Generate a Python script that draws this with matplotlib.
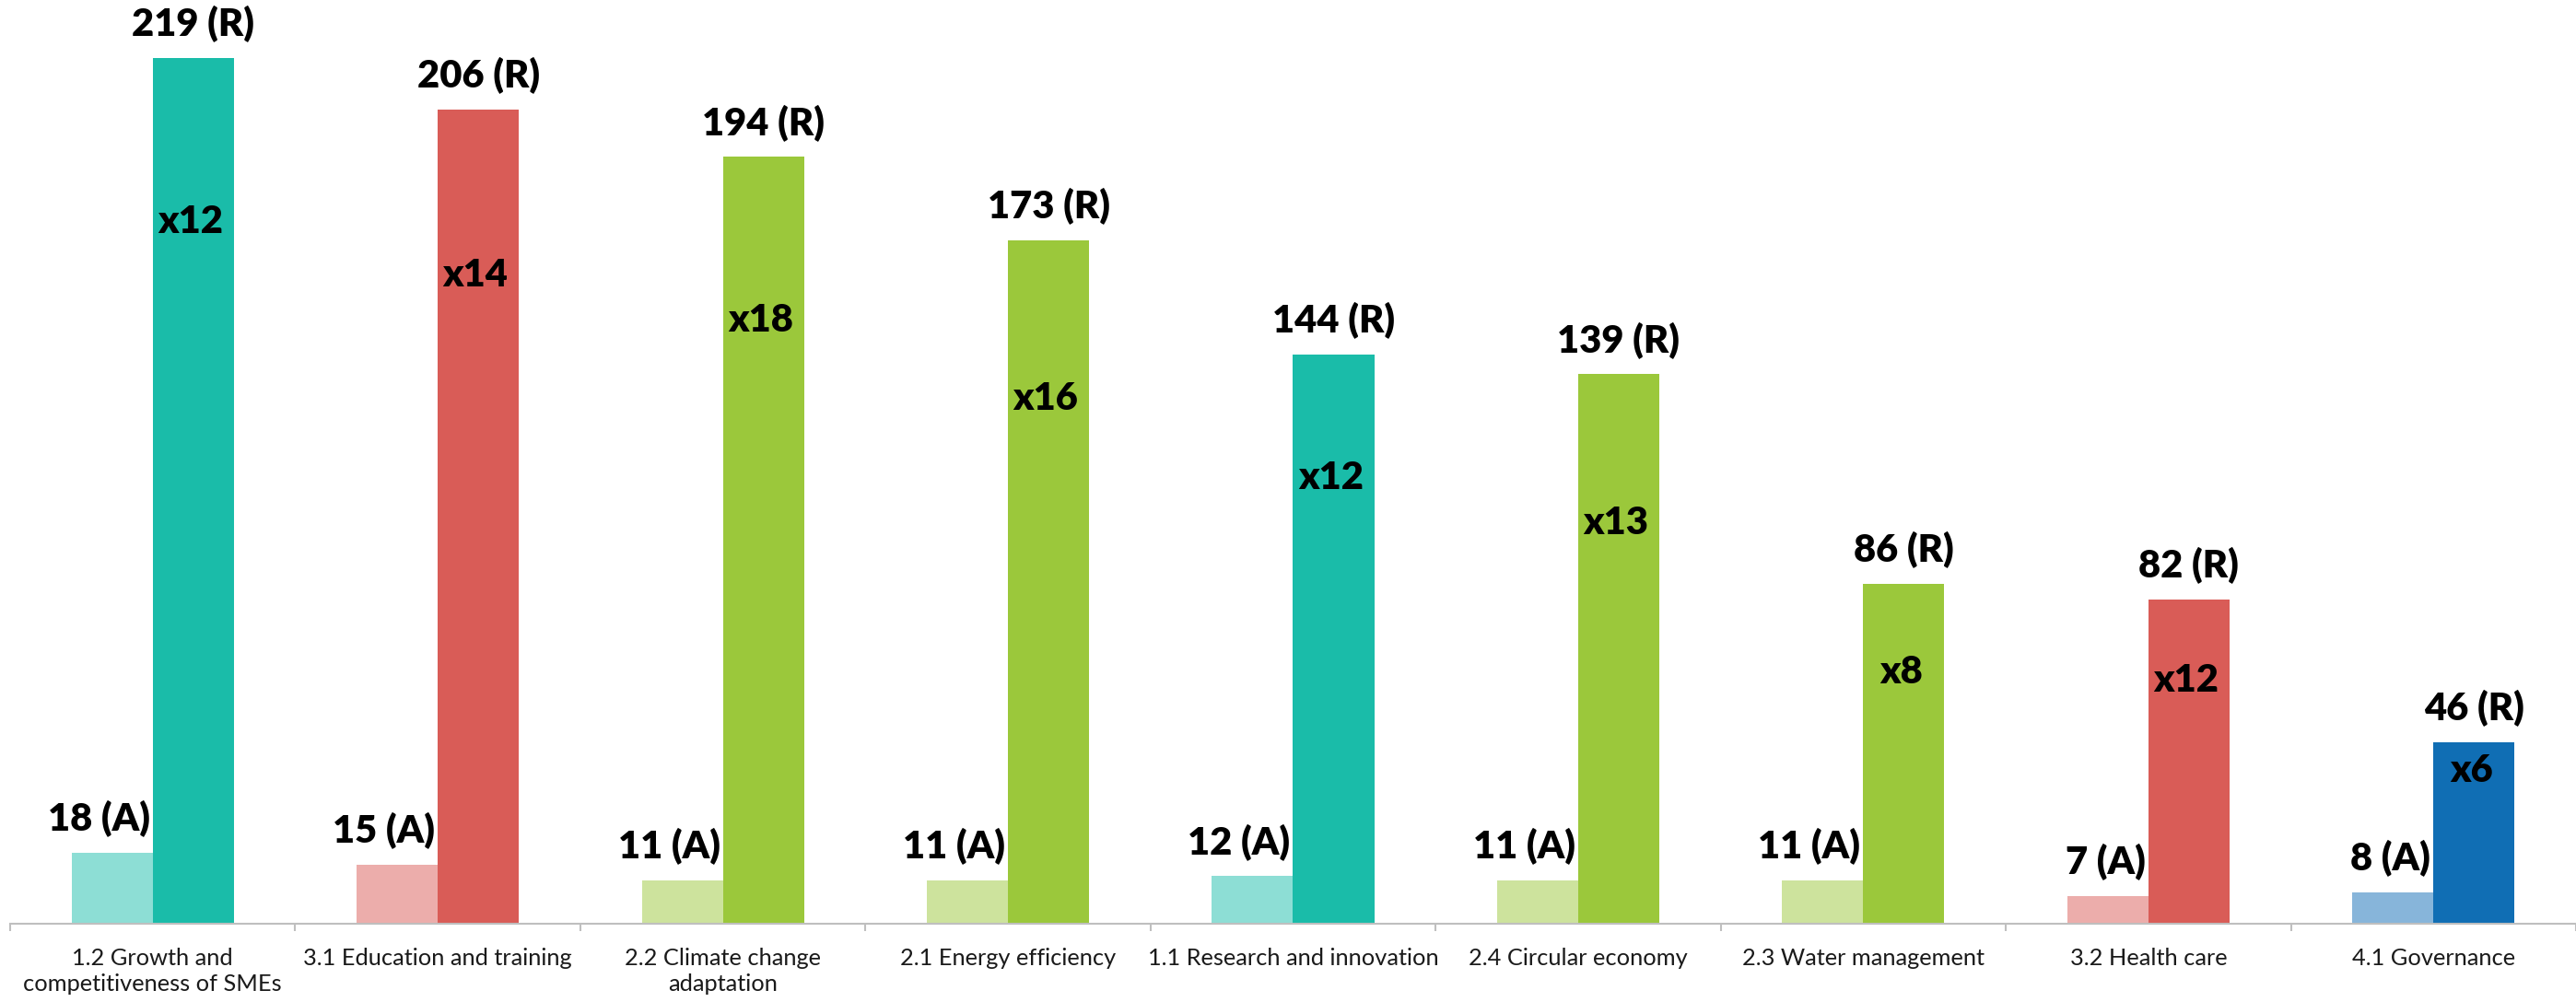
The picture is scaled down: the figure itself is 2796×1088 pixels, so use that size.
import matplotlib
matplotlib.use("Agg")
import matplotlib.pyplot as plt
import numpy as np

plt.rcParams['font.family'] = ['Lato', 'DejaVu Sans']

categories = ["1.2 Growth and\ncompetitiveness of SMEs", "3.1 Education and training",
              "2.2 Climate change\nadaptation", "2.1 Energy efficiency",
              "1.1 Research and innovation", "2.4 Circular economy",
              "2.3 Water management", "3.2 Health care", "4.1 Governance"]
applied = [18, 15, 11, 11, 12, 11, 11, 7, 8]
received = [219, 206, 194, 173, 144, 139, 86, 82, 46]
ratio_labels = ["x12", "x14", "x18", "x16", "x12", "x13", "x8", "x12", "x6"]
ratio_y = [177.6, 164, 152.7, 132.8, 112.8, 101.3, 63.5, 61.4, 38.6]

dark = ["#1ABCA9", "#D95C57", "#9BC83B", "#9BC83B", "#1ABCA9", "#9BC83B", "#9BC83B", "#D95C57", "#106EB4"]
light = ["#8DDED5", "#ECADAB", "#CDE39D", "#CDE39D", "#8DDED5", "#CDE39D", "#CDE39D", "#ECADAB", "#87B5DA"]

fig = plt.figure(figsize=(27.96, 10.88), dpi=100)
ax = fig.add_axes([11 / 2796, 85 / 1088, 2785 / 2796, 1003 / 1088])

x = np.arange(len(categories))
w = 0.2844
ax.bar(x - w / 2, applied, w, color=light)
ax.bar(x + w / 2, received, w, color=dark)

for i in range(len(categories)):
    ax.annotate(f"{applied[i]} (A)", (x[i] - 0.01, applied[i]), xytext=(0, 17),
                textcoords="offset points", ha="right", va="baseline",
                fontsize=30, fontweight="heavy", color="black", annotation_clip=False)
    ax.annotate(f"{received[i]} (R)", (x[i] + w / 2, received[i]), xytext=(0, 17),
                textcoords="offset points", ha="center", va="baseline",
                fontsize=30, fontweight="heavy", color="black", annotation_clip=False)
    ax.text(x[i] + w / 2 - 0.01, ratio_y[i], ratio_labels[i], ha="center", va="center",
            fontsize=30, fontweight="heavy", color="black")

ax.set_xlim(-0.5, len(categories) - 0.5)
ax.set_ylim(0, 233.7)
ax.set_yticks([])
for s in ["top", "right", "left"]:
    ax.spines[s].set_visible(False)
ax.spines["bottom"].set_color("#BFBFBF")
ax.spines["bottom"].set_linewidth(1.5)

ax.set_xticks(x)
ax.set_xticklabels(categories, fontsize=18.3, color="#1a1a1a", linespacing=1.25)
ax.tick_params(axis="x", which="major", length=0, pad=19)
ax.set_xticks(np.arange(len(categories) + 1) - 0.5, minor=True)
ax.tick_params(axis="x", which="minor", length=6, width=1.5, color="#BFBFBF")

fig.savefig("out.png", dpi=100)
